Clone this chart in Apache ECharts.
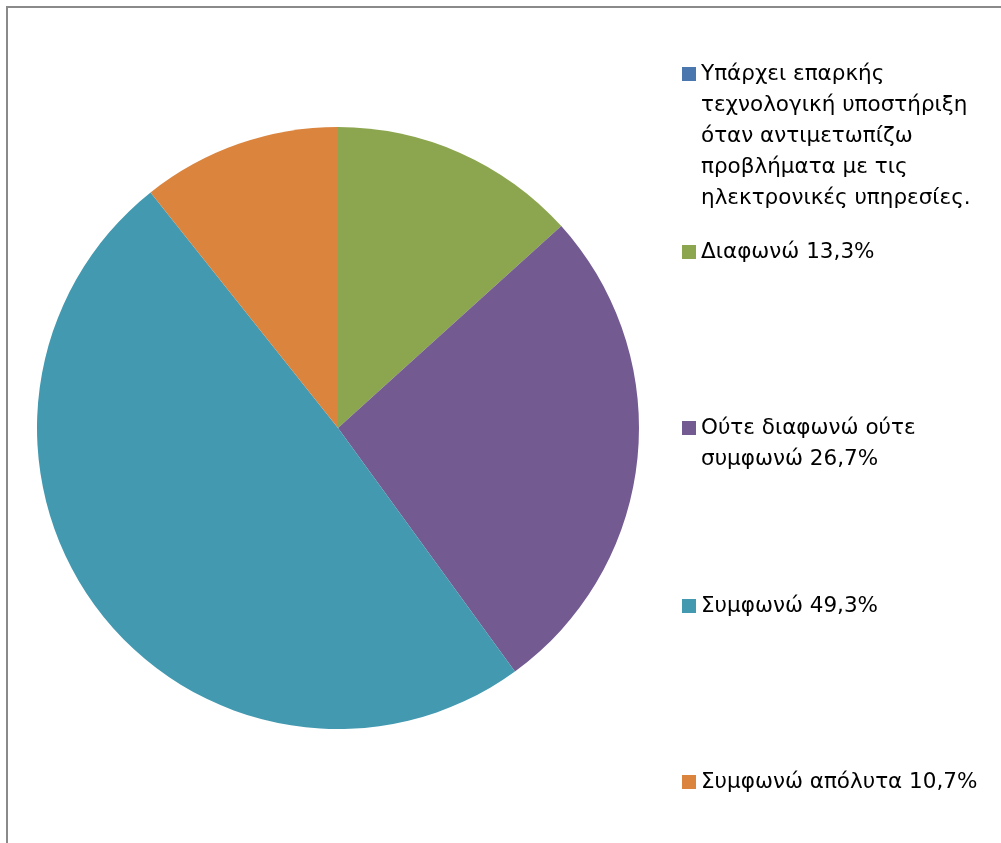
<!DOCTYPE html>
<html>
<head>
<meta charset="utf-8">
<script src="https://cdn.jsdelivr.net/npm/echarts@6/dist/echarts.min.js"></script>
<style>
  html, body { margin: 0; padding: 0; background: #fff; }
  #chart { width: 1001px; height: 843px; }
</style>
</head>
<body>
<div id="chart"></div>
<script>
// κατηγορίες (με τις αλλαγές γραμμής όπως στο υπόμνημα)
var categories = [
  'Υπάρχει επαρκής\nτεχνολογική υποστήριξη\nόταν αντιμετωπίζω\nπροβλήματα με τις\nηλεκτρονικές υπηρεσίες.',
  'Διαφωνώ',
  'Ούτε διαφωνώ ούτε\nσυμφωνώ',
  'Συμφωνώ',
  'Συμφωνώ απόλυτα'
];
var values = [0, 13.3, 26.7, 49.3, 10.7];
var colors = ['#4a77ad', '#8ca64f', '#735a91', '#4399b0', '#da843e'];
// κέντρο εικονιδίου κάθε στοιχείου του υπομνήματος
var legendY = [74, 252, 428, 606, 782];

var LH = 31;
var chart = echarts.init(document.getElementById('chart'));

var data = categories.map(function (c, i) {
  return { name: c, value: values[i], itemStyle: { color: colors[i] } };
});

function nLines(name) {
  return name.split('\n').length;
}

// το κείμενο κεντράρεται στο εικονίδιο, οπότε βάζουμε κενές γραμμές μπροστά
// ώστε η πρώτη γραμμή να πέφτει δίπλα στο τετράγωνο
function legendText(name) {
  var i = categories.indexOf(name);
  var txt = values[i] ? name + ' ' + values[i].toFixed(1).replace('.', ',') + '%' : name;
  var pre = '';
  for (var k = 1; k < nLines(name); k++) pre += ' \n';
  return pre + txt;
}

var legends = categories.map(function (c, i) {
  var boxH = (2 * nLines(c) - 1) * LH;
  return {
    data: [c],
    left: 682,
    top: legendY[i] - boxH / 2,
    padding: 0,
    icon: 'rect',
    itemWidth: 14,
    itemHeight: 14,
    selectedMode: false,
    formatter: legendText,
    textStyle: {
      fontFamily: '"DejaVu Sans", sans-serif',
      fontSize: 21.5,
      color: '#000',
      lineHeight: LH
    }
  };
});

var option = {
  backgroundColor: '#fff',
  animation: false,
  legend: legends,
  graphic: [{
    type: 'rect',
    z: -10,
    shape: { x: 7, y: 7, width: 1200, height: 1000 },
    style: { fill: 'none', stroke: '#8a8a8a', lineWidth: 2 }
  }],
  series: [{
    type: 'pie',
    center: [338, 428],
    radius: 301,
    startAngle: 90,
    clockwise: true,
    label: { show: false },
    labelLine: { show: false },
    itemStyle: { borderWidth: 0 },
    emphasis: { disabled: true },
    data: data
  }]
};

chart.setOption(option);
window.addEventListener('resize', function () {
  chart.resize();
});
</script>
</body>
</html>
